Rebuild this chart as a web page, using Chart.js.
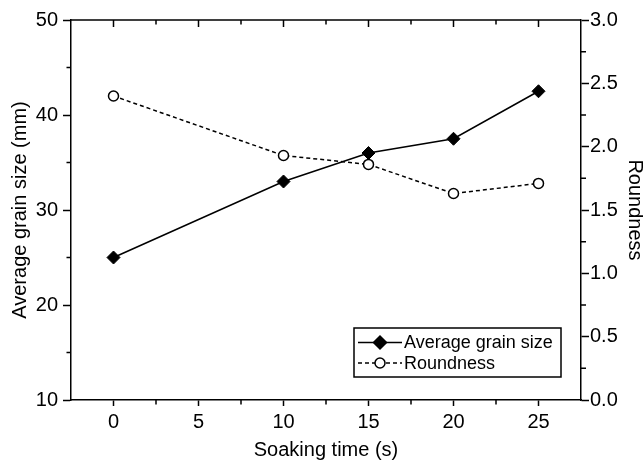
<!DOCTYPE html>
<html>
<head>
<meta charset="utf-8">
<script src="https://cdn.jsdelivr.net/npm/chart.js@4"></script>
<style>
  body { margin: 0; background: #fff; }
</style>
</head>
<body>
<canvas id="grafico" width="643" height="462"></canvas>
<script>
// datos
const soakingTime = [0, 10, 15, 20, 25];
const grainSize = [25, 33, 36, 37.5, 42.5];
const roundness = [2.4, 1.93, 1.86, 1.63, 1.71];

// marcas de los ejes
const xMajorTicks = [0, 5, 10, 15, 20, 25];
const xMinorTicks = [2.5, 7.5, 12.5, 17.5, 22.5];
const yMinorTicks = [15, 25, 35, 45];
const y1MinorTicks = [0.25, 0.75, 1.25, 1.75, 2.25, 2.75];

const fuente = "'Liberation Sans', Arial, sans-serif";

// marcas menores, marco superior y leyenda
const extras = {
    id: 'extras',
    afterDraw(chart) {
        const { ctx, chartArea: a, scales } = chart;
        ctx.save();
        ctx.strokeStyle = '#000';
        ctx.lineWidth = 1.5;
        ctx.beginPath();
        ctx.moveTo(a.left, a.top);
        ctx.lineTo(a.right, a.top);
        xMajorTicks.forEach(v => {
            const px = scales.x.getPixelForValue(v);
            ctx.moveTo(px, a.top);
            ctx.lineTo(px, a.top + 7);
        });
        xMinorTicks.forEach(v => {
            const px = scales.x.getPixelForValue(v);
            ctx.moveTo(px, a.top);
            ctx.lineTo(px, a.top + 4.5);
            ctx.moveTo(px, a.bottom);
            ctx.lineTo(px, a.bottom + 4.5);
        });
        yMinorTicks.forEach(v => {
            const py = scales.y.getPixelForValue(v);
            ctx.moveTo(a.left, py);
            ctx.lineTo(a.left - 4.5, py);
        });
        y1MinorTicks.forEach(v => {
            const py = scales.y1.getPixelForValue(v);
            ctx.moveTo(a.right, py);
            ctx.lineTo(a.right + 5, py);
        });
        ctx.stroke();

        // leyenda
        const x0 = a.left + 283, y0 = a.top + 308;
        ctx.lineWidth = 1.5;
        ctx.strokeRect(x0, y0, 207, 49);
        chart.data.datasets.forEach((ds, i) => {
            const cy = y0 + 14.5 + i * 20.5;
            ctx.lineWidth = ds.borderWidth;
            ctx.setLineDash(ds.borderDash || []);
            ctx.beginPath();
            ctx.moveTo(x0 + 4, cy);
            ctx.lineTo(x0 + 48, cy);
            ctx.stroke();
            ctx.setLineDash([]);
            ctx.fillStyle = ds.pointBackgroundColor;
            ctx.strokeStyle = ds.borderColor;
            Chart.helpers.drawPoint(ctx, {
                pointStyle: ds.pointStyle,
                radius: ds.pointRadius,
                borderWidth: ds.pointBorderWidth,
                rotation: 0
            }, x0 + 26, cy);
            ctx.fillStyle = '#000';
            ctx.font = '18px ' + fuente;
            ctx.textBaseline = 'middle';
            ctx.textAlign = 'left';
            ctx.fillText(ds.label, x0 + 50, cy + 1);
        });
        ctx.restore();
    }
};

const ctx = document.getElementById('grafico');

new Chart(ctx, {
    type: 'line',
    data: {
        datasets: [
            {
                label: 'Average grain size',
                data: soakingTime.map((t, i) => ({ x: t, y: grainSize[i] })),
                yAxisID: 'y',
                borderColor: '#000',
                borderWidth: 1.5,
                pointStyle: 'rectRot',
                pointRadius: 6.5,
                pointBackgroundColor: '#000',
                pointBorderColor: '#000',
                pointBorderWidth: 1,
            },
            {
                label: 'Roundness',
                data: soakingTime.map((t, i) => ({ x: t, y: roundness[i] })),
                yAxisID: 'y1',
                borderColor: '#000',
                borderWidth: 1.5,
                borderDash: [4, 3],
                pointStyle: 'circle',
                pointRadius: 5,
                pointBackgroundColor: '#fff',
                pointBorderColor: '#000',
                pointBorderWidth: 1.5,
            },
        ],
    },
    options: {
        responsive: false,
        animation: false,
        layout: { padding: { top: 20, left: 0, right: 0, bottom: 0 } },
        plugins: {
            legend: { display: false },
            tooltip: { enabled: false },
        },
        scales: {
            x: {
                type: 'linear',
                position: 'bottom',
                min: -2.5,
                max: 27.5,
                afterBuildTicks: (scale) => {
                    scale.ticks = xMajorTicks.map(v => ({ value: v }));
                },
                afterFit: (scale) => { scale.height = 62; },
                border: { color: '#000', width: 1.5 },
                grid: { drawOnChartArea: false, tickLength: 6, tickColor: '#000', tickWidth: 1.5 },
                ticks: { color: '#000', padding: 4, font: { family: fuente, size: 20 } },
                title: {
                    display: true,
                    text: 'Soaking time (s)',
                    color: '#000',
                    font: { family: fuente, size: 20 },
                    padding: { top: 0, bottom: 0 },
                },
            },
            y: {
                position: 'left',
                min: 10,
                max: 50,
                ticks: { stepSize: 10, color: '#000', padding: 5, font: { family: fuente, size: 20 } },
                afterFit: (scale) => { scale.width = 71; },
                border: { color: '#000', width: 1.5 },
                grid: { drawOnChartArea: false, tickLength: 8, tickColor: '#000', tickWidth: 1.5 },
                title: {
                    display: true,
                    text: 'Average grain size (mm)',
                    color: '#000',
                    font: { family: fuente, size: 20 },
                    padding: { top: 8, bottom: 0 },
                },
            },
            y1: {
                position: 'right',
                min: 0,
                max: 3,
                ticks: {
                    stepSize: 0.5,
                    color: '#000',
                    padding: 1,
                    font: { family: fuente, size: 20 },
                    callback: (v) => v.toFixed(1),
                },
                afterFit: (scale) => { scale.width = 62; },
                border: { color: '#000', width: 1.5 },
                grid: { drawOnChartArea: false, tickLength: 8, tickColor: '#000', tickWidth: 1.5 },
                title: {
                    display: true,
                    text: 'Roundness',
                    color: '#000',
                    font: { family: fuente, size: 20 },
                    padding: { top: -4, bottom: 0 },
                },
            },
        },
    },
    plugins: [extras],
});
</script>
</body>
</html>
